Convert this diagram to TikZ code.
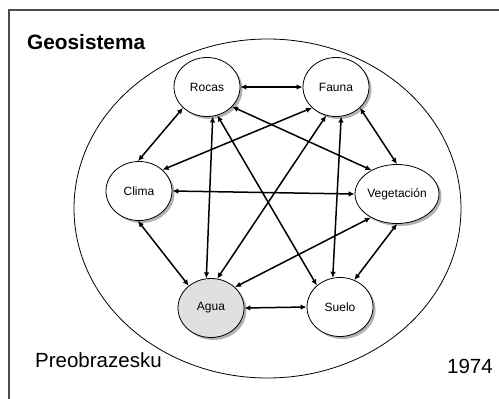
\documentclass[tikz,border=0pt]{standalone}
\usepackage{fontspec}
\setmainfont{Liberation Sans}
\usetikzlibrary{arrows.meta,shapes.geometric,shadows}
\begin{document}
\begin{tikzpicture}[x=1pt,y=-1pt,
  elem/.style={ellipse, draw=black, line width=0.8pt, fill=white,
    minimum width=66pt, minimum height=59pt, inner sep=0pt,
    font=\fontsize{12}{14}\selectfont,
    drop shadow={shadow xshift=2.5pt, shadow yshift=-2.5pt, fill=black!30, opacity=1}},
  link/.style={line width=1.5pt,
    {Latex[length=6pt,width=5.5pt]}-{Latex[length=6pt,width=5.5pt]}},
  bigtext/.style={anchor=base west, inner sep=0pt, font=\fontsize{20.5}{24}\selectfont}
]
\useasboundingbox (0,0) rectangle (499,399);
% frame
\draw[black!70, line width=2pt] (9,399) -- (9,10) -- (499,10);
% system boundary
\draw[line width=0.8pt] (267.5,208.5) ellipse [x radius=193.5, y radius=169.5];

% components
\node[elem] (rocas) at (207,87) {Rocas};
\node[elem] (fauna) at (336,87) {Fauna};
\node[elem] (clima) at (139,191) {Clima};
\node[elem] (veg) at (397,194) {Vegetación};
\node[elem, fill=black!12] (agua) at (211,308) {Agua};
\node[elem] (suelo) at (340,307) {Suelo};

% interactions
\draw[link] (rocas.east) -- (fauna.west);
\draw[link] (rocas.221) -- (clima.92);
\draw[link] (rocas.-38) -- (veg.137);
\draw[link] (rocas.-79) -- (agua.99);
\draw[link] (rocas.-70) -- (suelo.137);
\draw[link] (fauna.221) -- (clima.42);
\draw[link] (fauna.-41) -- (veg.90);
\draw[link] (fauna.251) -- (agua.78);
\draw[link] (fauna.-80) -- (suelo.104);
\draw[link] (clima.0) -- (veg.180);
\draw[link] (clima.268) -- (agua.135);
\draw[link] (veg.222) -- (agua.41);
\draw[link] (veg.270) -- (suelo.62);
\draw[link] (agua.east) -- (suelo.west);

% labels
\node[bigtext, font=\fontsize{20.8}{24}\selectfont\bfseries] (title) at (27,49) {Geosistema};
\node[bigtext] (author) at (35,367) {Preobrazesku};
\node[bigtext] (year) at (447,373) {1974};
\end{tikzpicture}
\end{document}
